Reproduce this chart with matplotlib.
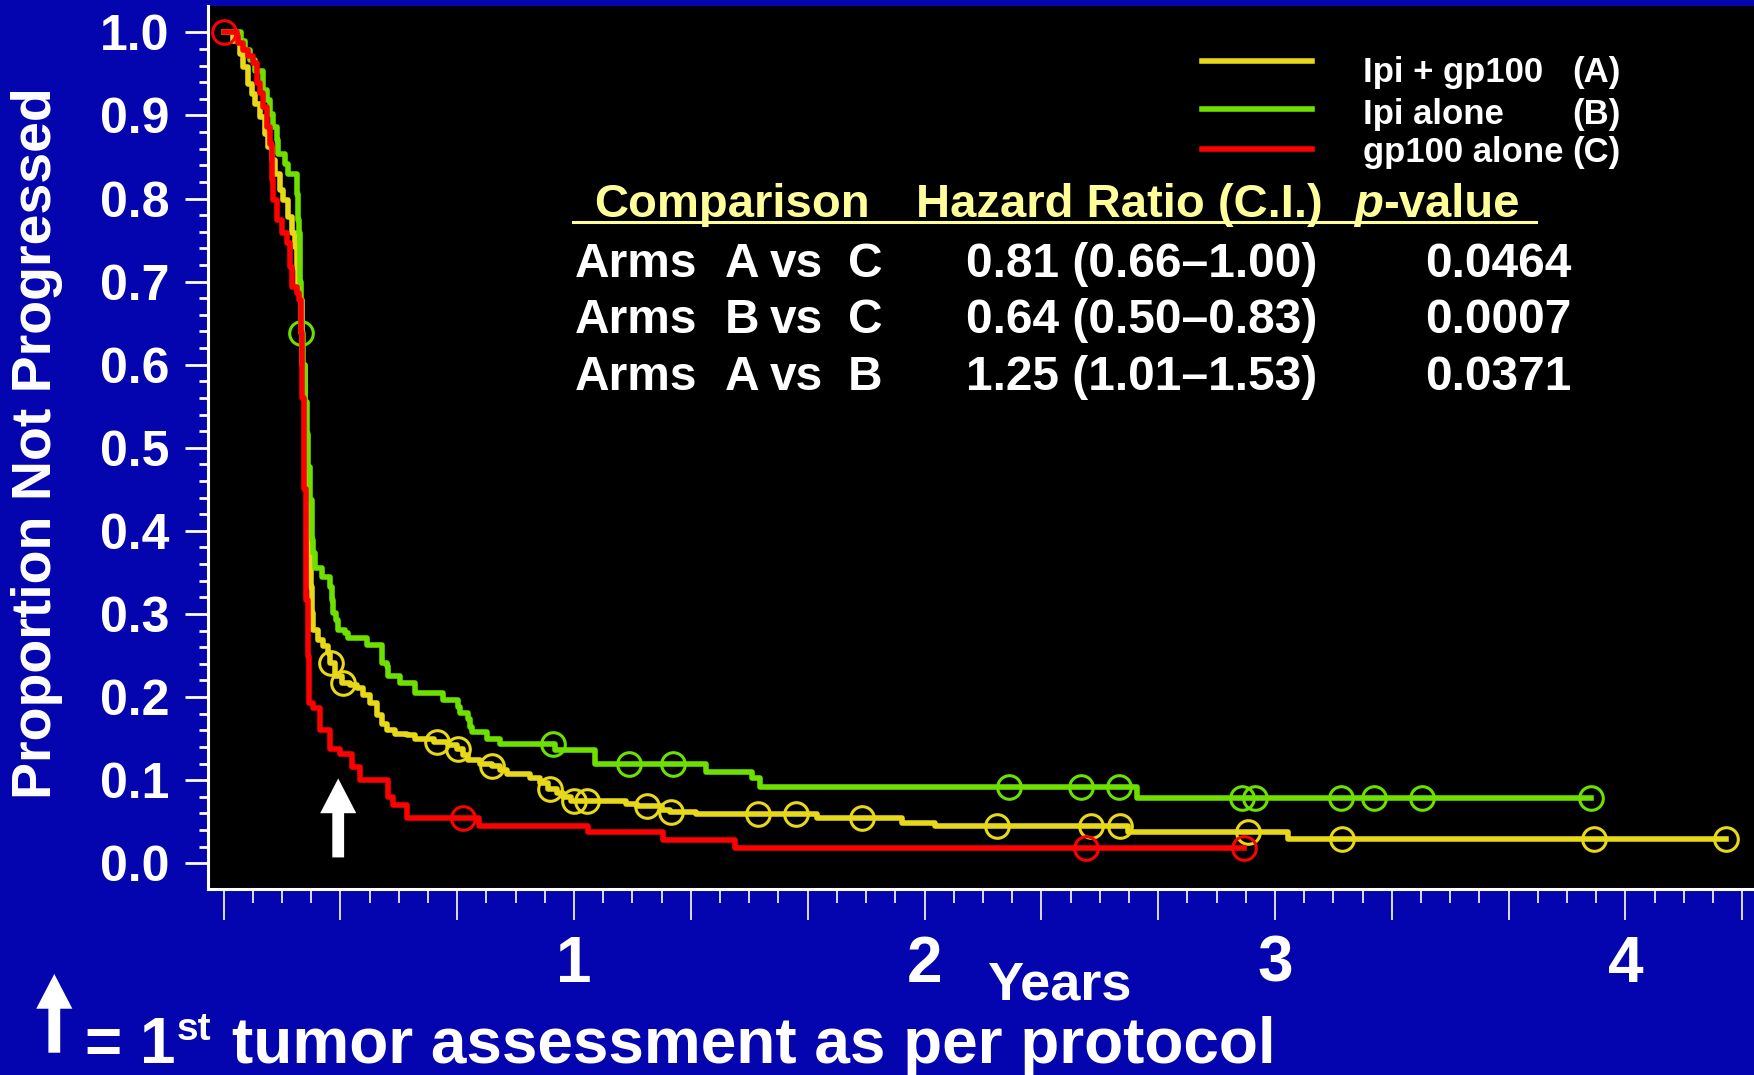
import numpy as np
import matplotlib.pyplot as plt
from matplotlib.lines import Line2D

plt.rcParams['font.family'] = ['Liberation Sans', 'DejaVu Sans']
plt.rcParams['font.weight'] = 'bold'

BLUE = '#0505AF'
YELLOW = '#E8D81A'
GREEN = '#6EE000'
RED = '#FF0000'
PALE = '#FFFF99'

# Kaplan-Meier steps: time (years) and proportion not progressed
t_a = [0.000, 0.028, 0.047, 0.056, 0.070, 0.080, 0.089, 0.104, 0.118, 0.127,
       0.137, 0.146, 0.161, 0.170, 0.184, 0.194, 0.203, 0.208, 0.213, 0.218,
       0.225, 0.232, 0.238, 0.244, 0.248, 0.251, 0.256, 0.270, 0.284, 0.299,
       0.303, 0.318, 0.337, 0.360, 0.380, 0.398, 0.418, 0.437, 0.451, 0.465,
       0.489, 0.522, 0.546, 0.600, 0.640, 0.665, 0.684, 0.698, 0.732, 0.765,
       0.789, 0.808, 0.874, 0.903, 0.925, 0.950, 0.969, 0.990, 1.148, 1.180,
       1.250, 1.273, 1.347, 1.693, 1.935, 2.029, 2.582, 3.037, 4.287]
s_a = [1.000, 0.990, 0.974, 0.958, 0.938, 0.926, 0.914, 0.898, 0.878, 0.862,
       0.846, 0.830, 0.810, 0.798, 0.778, 0.758, 0.742, 0.718, 0.694, 0.678,
       0.600, 0.500, 0.430, 0.389, 0.333, 0.301, 0.281, 0.269, 0.261, 0.253,
       0.241, 0.225, 0.217, 0.215, 0.211, 0.203, 0.193, 0.178, 0.168, 0.160,
       0.156, 0.154, 0.149, 0.146, 0.142, 0.138, 0.130, 0.124, 0.120, 0.117,
       0.112, 0.107, 0.102, 0.096, 0.089, 0.084, 0.080, 0.075, 0.071, 0.069,
       0.064, 0.062, 0.059, 0.054, 0.049, 0.045, 0.037, 0.029, 0.029]
cens_a = [0.306, 0.340, 0.610, 0.670, 0.767, 0.931, 1.000, 1.038, 1.207, 1.276,
          1.526, 1.632, 1.821, 2.206, 2.474, 2.558, 2.923, 3.190, 3.911, 4.287]

t_b = [0.000, 0.051, 0.061, 0.075, 0.089, 0.113, 0.123, 0.132, 0.142, 0.151,
       0.156, 0.175, 0.184, 0.208, 0.213, 0.216, 0.219, 0.2215, 0.227, 0.232,
       0.237, 0.242, 0.246, 0.251, 0.256, 0.261, 0.280, 0.303, 0.308, 0.313,
       0.322, 0.327, 0.346, 0.356, 0.408, 0.451, 0.465, 0.470, 0.503, 0.546,
       0.627, 0.670, 0.674, 0.698, 0.703, 0.708, 0.751, 0.789, 0.946, 1.060,
       1.377, 1.507, 1.531, 2.605, 3.902]
s_b = [1.000, 0.990, 0.979, 0.967, 0.953, 0.931, 0.919, 0.902, 0.886, 0.870,
       0.854, 0.842, 0.830, 0.806, 0.774, 0.758, 0.700, 0.638, 0.598, 0.555,
       0.517, 0.477, 0.437, 0.389, 0.373, 0.355, 0.345, 0.333, 0.317, 0.301,
       0.293, 0.281, 0.277, 0.271, 0.263, 0.241, 0.237, 0.225, 0.217, 0.205,
       0.197, 0.188, 0.181, 0.173, 0.164, 0.158, 0.150, 0.144, 0.136, 0.120,
       0.110, 0.102, 0.092, 0.079, 0.079]
cens_b = [0.222, 0.939, 1.157, 1.283, 2.242, 2.447, 2.554, 2.907, 2.943, 3.188,
          3.282, 3.420, 3.902]

t_c = [0.000, 0.037, 0.042, 0.056, 0.070, 0.085, 0.094, 0.104, 0.113, 0.123,
       0.132, 0.137, 0.140, 0.151, 0.166, 0.180, 0.189, 0.194, 0.208, 0.216,
       0.220, 0.223, 0.229, 0.235, 0.240, 0.244, 0.256, 0.275, 0.303, 0.332,
       0.365, 0.389, 0.470, 0.484, 0.522, 0.730, 1.041, 1.253, 1.459, 2.911]
s_c = [1.000, 0.995, 0.987, 0.979, 0.971, 0.963, 0.939, 0.927, 0.910, 0.886,
       0.866, 0.822, 0.798, 0.774, 0.758, 0.746, 0.718, 0.694, 0.686, 0.678,
       0.638, 0.560, 0.450, 0.317, 0.250, 0.193, 0.187, 0.160, 0.138, 0.132,
       0.116, 0.100, 0.080, 0.070, 0.054, 0.045, 0.037, 0.0275, 0.0185, 0.0185]
cens_c = [0.000, 0.682, 2.461, 2.911]

legend_names = ['Ipi + gp100', 'Ipi alone', 'gp100 alone']
legend_arms = ['(A)', '(B)', '(C)']

arm_1 = ['A', 'B', 'A']
arm_2 = ['C', 'C', 'B']
hazard = ['0.81 (0.66\u20131.00)', '0.64 (0.50\u20130.83)', '1.25 (1.01\u20131.53)']
pvals = ['0.0464', '0.0007', '0.0371']

W, H = 1754, 1075


def px(x, y):
    # pixel position measured from the top-left -> figure fraction
    return x / W, 1 - y / H


def km_at(t, s, x):
    idx = np.searchsorted(t, x, side='right') - 1
    return np.asarray(s)[idx]


fig = plt.figure(figsize=(W / 100, H / 100), dpi=100, facecolor=BLUE)
ax = fig.add_axes([207.5 / W, 1 - 889 / H, 1 - 207.5 / W, (889 - 6) / H])
ax.set_facecolor('black')

for t, s, cens, col in [(t_a, s_a, cens_a, YELLOW),
                        (t_b, s_b, cens_b, GREEN),
                        (t_c, s_c, cens_c, RED)]:
    ax.step(t, s, where='post', color=col, lw=4.0)
    ax.plot(cens, km_at(t, s, cens), 'o', ms=17, mfc='none', mec=col, mew=2.2)

ax.set_xlim(-0.046, 4.367)
ax.set_ylim(-0.031, 1.0317)

for side in ['top', 'right']:
    ax.spines[side].set_visible(False)
for side in ['left', 'bottom']:
    ax.spines[side].set_color('white')
    ax.spines[side].set_linewidth(2.2)

yt = np.arange(0, 11) / 10
ax.set_yticks(yt)
ax.set_yticklabels([f'{v:.1f}' for v in yt])
ax.set_yticks(np.arange(0, 51) / 50, minor=True)
ax.tick_params(axis='y', which='major', length=16.5, width=2, color='white',
               labelsize=36, labelcolor='white', pad=11)
ax.tick_params(axis='y', which='minor', length=6.5, width=2, color='white')

ax.set_xticks(np.arange(0, 14) / 3)
ax.set_xticklabels(['' if (k % 3 or k == 0) else str(k // 3) for k in range(14)])
ax.set_xticks(np.arange(0, 53) / 12, minor=True)
ax.tick_params(axis='x', which='major', length=22, width=1.2, color='white',
               labelsize=46, labelcolor='white', pad=11)
ax.tick_params(axis='x', which='minor', length=10, width=1.2, color='white')

# arrow marking the first tumour assessment
arrow = dict(facecolor='white', edgecolor='none', lw=0, width=8.5,
             headwidth=26, headlength=25, shrink=0)
ax.annotate('', xy=(0.327, 0.102), xytext=(0.327, 0.007), arrowprops=arrow)
fig.add_artist(plt.Annotation('', xy=(54.3, H - 974), xytext=(54.3, H - 1052.7),
                              xycoords='figure pixels', arrowprops=arrow))

fig.text(*px(37, 443), 'Proportion Not Progressed', rotation=90, color='white',
         fontsize=40, ha='center', va='center')
fig.text(*px(1059, 1000), 'Years', color='white', fontsize=39,
         ha='center', va='baseline')

# legend
leg_line_y = [61.3, 109.3, 149.3]
leg_text_y = [81.7, 124, 161.7]
for i, col in enumerate([YELLOW, GREEN, RED]):
    fig.add_artist(Line2D([1201.7 / W, 1312.3 / W], [1 - leg_line_y[i] / H] * 2,
                          color=col, lw=4.0, transform=fig.transFigure))
    fig.text(*px(1363, leg_text_y[i]), legend_names[i], color='white',
             fontsize=25, va='baseline', ha='left')
    fig.text(*px(1621, leg_text_y[i]), legend_arms[i], color='white',
             fontsize=25, va='baseline', ha='right')

# comparison table
renderer = fig.canvas.get_renderer()
fig.text(*px(594, 216.7), 'Comparison', color=PALE, fontsize=34, va='baseline')
fig.text(*px(916, 216.7), 'Hazard Ratio (C.I.)', color=PALE, fontsize=34, va='baseline')
tp = fig.text(*px(1354, 216.7), 'p', color=PALE, fontsize=34, va='baseline',
              style='italic')
bb = tp.get_window_extent(renderer)
fig.text(bb.x1 / W, 1 - 216.7 / H, '-value', color=PALE, fontsize=34, va='baseline')
fig.add_artist(Line2D([573 / W, 1536 / W], [1 - 221.7 / H] * 2, color=PALE,
                      lw=2.2, transform=fig.transFigure))

row_y = [276.7, 333.3, 390.0]
for i, y in enumerate(row_y):
    fig.text(*px(575, y), 'Arms', color='white', fontsize=34.5, va='baseline')
    fig.text(*px(725, y), arm_1[i], color='white', fontsize=34.5, va='baseline')
    fig.text(*px(770, y), 'vs', color='white', fontsize=34.5, va='baseline')
    fig.text(*px(848, y), arm_2[i], color='white', fontsize=34.5, va='baseline')
    fig.text(*px(966, y), hazard[i], color='white', fontsize=34.5, va='baseline')
    fig.text(*px(1425, y), pvals[i], color='white', fontsize=34.5, va='baseline')

# footnote: "= 1st tumor assessment as per protocol" with a raised "st"
t1 = fig.text(*px(85, 1063), '= 1', color='white', fontsize=46, va='baseline')
bb1 = t1.get_window_extent(renderer)
fig.text(bb1.x1 / W + 1 / W, 1 - 1040 / H, 'st', color='white', fontsize=28,
         va='baseline')
fig.text(*px(232, 1063), 'tumor assessment as per protocol', color='white',
         fontsize=46, va='baseline')

fig.savefig('out.png', dpi=100, facecolor=BLUE)
